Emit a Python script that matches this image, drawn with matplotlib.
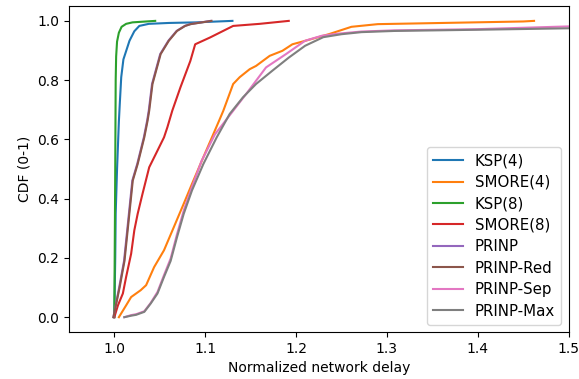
import matplotlib
matplotlib.use("Agg")
import matplotlib.pyplot as plt

labels = ["KSP(4)", "SMORE(4)", "KSP(8)", "SMORE(8)", "PRINP", "PRINP-Red", "PRINP-Sep", "PRINP-Max"]

ksp4_x = [1.0, 1.001, 1.0015, 1.003, 1.005, 1.006, 1.0076, 1.01, 1.0167, 1.022, 1.0275, 1.038, 1.06, 1.09, 1.13]
ksp4_y = [0.0, 0.2, 0.35, 0.5, 0.66, 0.72, 0.81, 0.87, 0.933, 0.965, 0.983, 0.99, 0.993, 0.995, 1.0]

smore4_x = [1.005, 1.013, 1.0185, 1.029, 1.035, 1.0438, 1.0547, 1.0655, 1.0764, 1.0855, 1.098, 1.109,
            1.116, 1.12, 1.1308, 1.138, 1.149, 1.156, 1.171, 1.185, 1.196, 1.2105, 1.236, 1.261, 1.29,
            1.326, 1.45, 1.462]
smore4_y = [0.0, 0.04, 0.068, 0.091, 0.108, 0.169, 0.226, 0.304, 0.383, 0.45, 0.54, 0.618,
            0.668, 0.697, 0.787, 0.81, 0.837, 0.848, 0.882, 0.899, 0.921, 0.933, 0.955, 0.98, 0.989,
            0.991, 0.998, 1.0]

ksp8_x = [1.0, 1.001, 1.0015, 1.002, 1.003, 1.005, 1.008, 1.013, 1.02, 1.045]
ksp8_y = [0.0, 0.5, 0.8, 0.88, 0.93, 0.96, 0.98, 0.99, 0.995, 1.0]

smore8_x = [1.0, 1.004, 1.0094, 1.013, 1.0185, 1.022, 1.0257, 1.031, 1.0384, 1.0457, 1.0547, 1.0584,
            1.0638, 1.0728, 1.0837, 1.089, 1.1054, 1.1308, 1.16, 1.192]
smore8_y = [0.0, 0.04, 0.08, 0.136, 0.214, 0.293, 0.349, 0.416, 0.506, 0.551, 0.607, 0.641,
            0.697, 0.776, 0.865, 0.921, 0.944, 0.983, 0.99, 1.0]

prinp_x = [0.999, 1.0053, 1.0107, 1.0144, 1.0198, 1.0252, 1.0325, 1.0361, 1.0379, 1.0415, 1.0505,
           1.0595, 1.0685, 1.0775, 1.0835, 1.106]
prinp_y = [0.0, 0.10, 0.19, 0.30, 0.461, 0.517, 0.607, 0.663, 0.697, 0.787, 0.888,
           0.933, 0.966, 0.983, 0.989, 1.0]

prinp_red_x = [0.999, 1.0058, 1.0112, 1.0149, 1.0203, 1.0257, 1.033, 1.0366, 1.0384, 1.042, 1.051,
               1.060, 1.069, 1.078, 1.084, 1.107]
prinp_red_y = [0.0, 0.10, 0.19, 0.30, 0.461, 0.517, 0.607, 0.663, 0.697, 0.787, 0.888,
               0.933, 0.966, 0.983, 0.989, 1.0]

prinp_sep_x = [1.011, 1.0185, 1.024, 1.033, 1.040, 1.0475, 1.0547, 1.062, 1.069, 1.0764, 1.0855,
               1.096, 1.1107, 1.1236, 1.145, 1.167, 1.189, 1.21, 1.2286, 1.2467, 1.272, 1.308,
               1.399, 1.485, 1.6, 1.8]
prinp_sep_y = [0.0, 0.007, 0.01, 0.02, 0.048, 0.085, 0.142, 0.198, 0.28, 0.36, 0.44,
               0.527, 0.617, 0.668, 0.753, 0.843, 0.888, 0.933, 0.95, 0.957, 0.964, 0.968,
               0.972, 0.98, 0.99, 1.0]

prinp_max_x = [1.011, 1.0185, 1.024, 1.033, 1.040, 1.0475, 1.0547, 1.062, 1.069, 1.0764, 1.0855,
               1.098, 1.1127, 1.127, 1.1416, 1.156, 1.174, 1.192, 1.21, 1.23, 1.25, 1.272, 1.308,
               1.399, 1.5, 1.6, 1.8]
prinp_max_y = [0.0, 0.005, 0.008, 0.018, 0.046, 0.08, 0.136, 0.19, 0.27, 0.349, 0.428,
               0.517, 0.607, 0.686, 0.742, 0.787, 0.832, 0.876, 0.916, 0.945, 0.955, 0.962, 0.966,
               0.97, 0.975, 0.985, 1.0]

series = [
    (ksp4_x, ksp4_y), (smore4_x, smore4_y), (ksp8_x, ksp8_y), (smore8_x, smore8_y),
    (prinp_x, prinp_y), (prinp_red_x, prinp_red_y), (prinp_sep_x, prinp_sep_y), (prinp_max_x, prinp_max_y),
]

fig = plt.figure(figsize=(5.79, 3.79), dpi=100)
ax = fig.add_subplot(111)
fig.subplots_adjust(left=0.119, right=0.982, bottom=0.124, top=0.984)

for (xs, ys), lab in zip(series, labels):
    ax.plot(xs, ys, label=lab)

ax.set_xlim(0.95, 1.5)
ax.set_ylim(-0.05, 1.05)
ax.set_xticks([1.0, 1.1, 1.2, 1.3, 1.4, 1.5])
ax.set_yticks([0.0, 0.2, 0.4, 0.6, 0.8, 1.0])
ax.set_xlabel("Normalized network delay")
ax.set_ylabel("CDF (0-1)")
ax.legend(loc="lower right", fontsize=10.8, labelspacing=0.43)

fig.savefig("out.png", dpi=100)
